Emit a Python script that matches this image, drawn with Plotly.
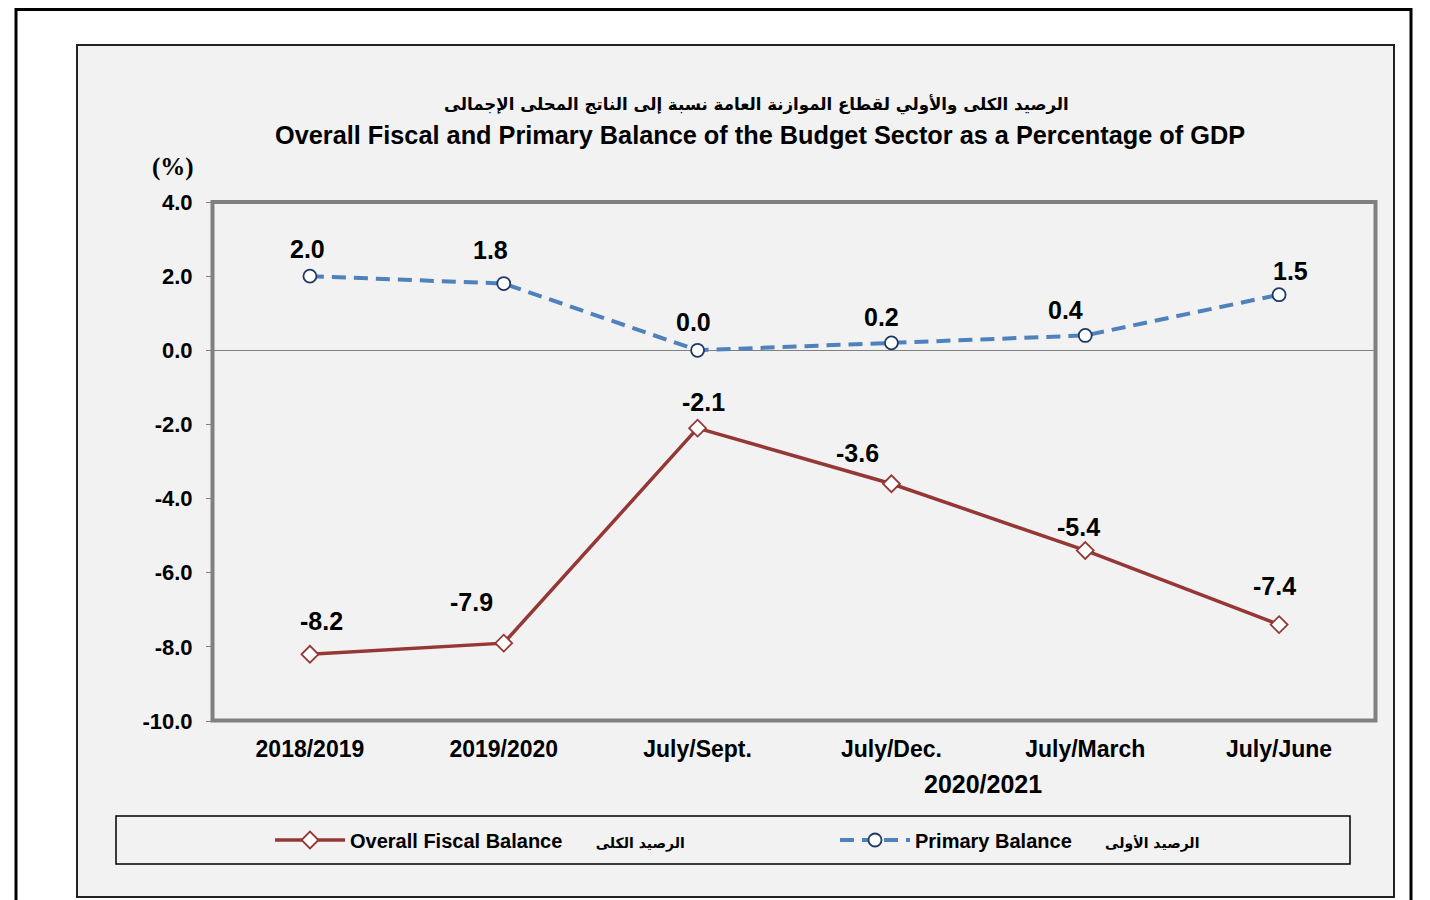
import plotly.graph_objects as go

categories = ["2018/2019", "2019/2020", "July/Sept.", "July/Dec.", "July/March", "July/June"]
overall_fiscal = [-8.2, -7.9, -2.1, -3.6, -5.4, -7.4]
primary_balance = [2.0, 1.8, 0.0, 0.2, 0.4, 1.5]
y_ticks = [4.0, 2.0, 0.0, -2.0, -4.0, -6.0, -8.0, -10.0]

title_ar = "الرصيد الكلى والأولي لقطاع الموازنة العامة نسبة إلى الناتج المحلى الإجمالى"
title_en = "Overall Fiscal and Primary Balance of the Budget Sector as a Percentage of GDP"
name_overall = "Overall Fiscal Balance"
name_overall_ar = "الرصيد الكلى"
name_primary = "Primary Balance"
name_primary_ar = "الرصيد الأولى"
period_label = "2020/2021"

OFF = 8  # page body margin
W, H = 1430 - OFF, 900 - OFF
L, R, T, B = 213, 1376, 202, 721  # plot area in page pixels


def px(x):
    return (x - L) / (R - L)


def py(y):
    return (B - y) / (B - T)


RED = "#953735"
BLUE = "#4f81bd"
NAVY = "#1f3864"
FONT = "Liberation Sans, Arial, DejaVu Sans"
AR_SPAN = '<span style="font-family:DejaVu Sans;font-size:14px">{}</span>'

fig = go.Figure()
nbsp = "\u00a0"
fig.add_trace(go.Scatter(
    x=categories, y=overall_fiscal, mode="lines+markers",
    name=name_overall + nbsp * 6 + AR_SPAN.format(name_overall_ar),
    line=dict(color=RED, width=3.5),
    marker=dict(symbol="diamond", size=13, color="white", line=dict(color=RED, width=1.8)),
))
fig.add_trace(go.Scatter(
    x=categories, y=primary_balance, mode="lines+markers",
    name=name_primary + nbsp * 6 + AR_SPAN.format(name_primary_ar),
    line=dict(color=BLUE, width=4, dash="14px,8px"),
    marker=dict(symbol="circle", size=13, color="white", line=dict(color=NAVY, width=1.8)),
))

# data label offsets in px (styling only)
ov_off = [(12, 33), (-32, 41), (6, 26), (-34, 31), (-7, 23), (-5, 39)]
pr_off = [(-2, 27), (-13, 34), (-4, 28), (-10, 26), (-20, 25), (11, 24)]
LBL = dict(family=FONT, size=25, color="black", weight="bold")
ann = []
for c, v, (dx, dy) in zip(categories, overall_fiscal, ov_off):
    ann.append(dict(x=c, y=v, xref="x", yref="y", text=f"{v:.1f}", showarrow=False,
                    xshift=dx, yshift=dy, font=LBL))
for c, v, (dx, dy) in zip(categories, primary_balance, pr_off):
    ann.append(dict(x=c, y=v, xref="x", yref="y", text=f"{v:.1f}", showarrow=False,
                    xshift=dx, yshift=dy, font=LBL))

ann += [
    dict(x=px(756), y=py(104), xref="paper", yref="paper", text=title_ar, showarrow=False,
         font=dict(family="DejaVu Sans", size=16.6, color="black", weight="bold"), xanchor="center", yanchor="middle"),
    dict(x=px(760), y=py(135), xref="paper", yref="paper", text=title_en, showarrow=False,
         font=dict(family=FONT, size=25.3, color="black", weight="bold"), xanchor="center", yanchor="middle"),
    dict(x=px(173), y=py(167), xref="paper", yref="paper", text="(%)", showarrow=False,
         font=dict(family="Liberation Serif, Times New Roman", size=25, color="black", weight="bold"),
         xanchor="center", yanchor="middle"),
    dict(x=px(983), y=py(784), xref="paper", yref="paper", text=period_label, showarrow=False,
         font=dict(family=FONT, size=25, color="black", weight="bold"), xanchor="center", yanchor="middle"),
]

shapes = [
    dict(type="rect", xref="paper", yref="paper", x0=px(77), x1=px(1394), y0=py(897), y1=py(45),
         fillcolor="#f2f2f2", line=dict(color="#222222", width=2), layer="below"),
    # plot border
    dict(type="rect", xref="paper", yref="paper", x0=px(212.5), x1=px(1375.5), y0=py(720.5), y1=py(202),
         line=dict(color="#808080", width=4), fillcolor="rgba(0,0,0,0)"),
    # outer frame
    dict(type="line", xref="paper", yref="paper", x0=px(16), x1=px(1411), y0=py(9.5), y1=py(9.5),
         line=dict(color="black", width=3)),
    dict(type="line", xref="paper", yref="paper", x0=px(16), x1=px(16), y0=py(8), y1=py(905),
         line=dict(color="black", width=3)),
    dict(type="line", xref="paper", yref="paper", x0=px(1411), x1=px(1411), y0=py(8), y1=py(905),
         line=dict(color="black", width=3)),
    # legend box
    dict(type="rect", xref="paper", yref="paper", x0=px(116), x1=px(1350), y0=py(864), y1=py(816),
         line=dict(color="black", width=1.5), fillcolor="rgba(0,0,0,0)"),
]

fig.update_layout(
    width=W, height=H,
    margin=dict(l=L - OFF, r=(1430 - R), t=T - OFF, b=(900 - B), pad=0),
    paper_bgcolor="white", plot_bgcolor="#f2f2f2",
    showlegend=True,
    legend=dict(orientation="h", x=px(270), y=py(840), xanchor="left", yanchor="middle",
                bgcolor="rgba(0,0,0,0)", borderwidth=0,
                font=dict(family=FONT, size=20, color="black", weight="bold"),
                entrywidth=480, entrywidthmode="pixels", itemwidth=70),
    annotations=ann, shapes=shapes,
    xaxis=dict(type="category", range=[-0.5, 5.5], showgrid=False, zeroline=False,
               showline=False, ticks="",
               tickfont=dict(family=FONT, size=23, color="black", weight="bold"),
               ticklabelstandoff=12),
    yaxis=dict(range=[-10, 4], tickvals=y_ticks, ticktext=[f"{v:.1f}" for v in y_ticks],
               showgrid=False, zeroline=True, zerolinecolor="#808080", zerolinewidth=1,
               showline=False,
               ticks="outside", ticklen=6, tickcolor="#808080", tickwidth=1,
               ticklabelstandoff=9,
               tickfont=dict(family=FONT, size=22, color="black", weight="bold")),
)

fig.write_html("out.html")
